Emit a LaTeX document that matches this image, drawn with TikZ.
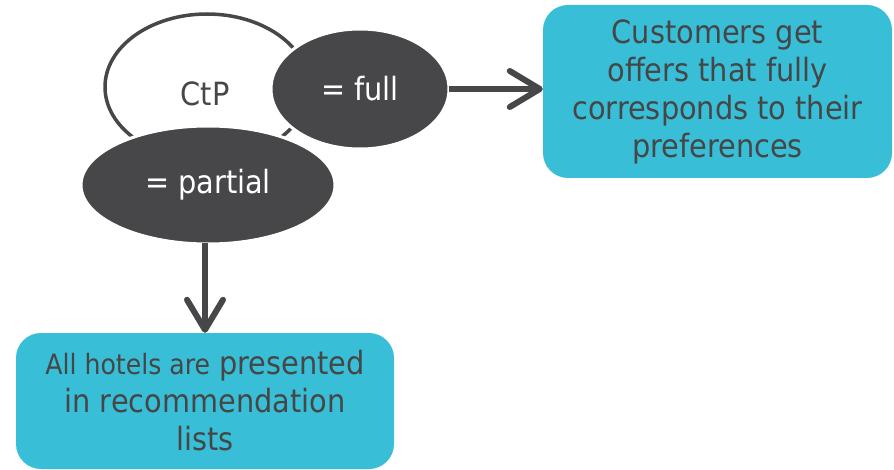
\documentclass[tikz,border=0pt]{standalone}
\usepackage{fontspec}
\setmainfont{DejaVu Sans Condensed}
\usetikzlibrary{shapes.geometric,arrows.meta}
\definecolor{inkgray}{HTML}{47474A}
\definecolor{textgray}{HTML}{464646}
\definecolor{tealbox}{HTML}{38BFD7}
\tikzset{
  outcome/.style={draw=none, fill=tealbox, rounded corners=25pt, align=center,
    text=textgray, font=\fontsize{32}{38}\selectfont, inner sep=0pt},
  ringnode/.style={ellipse, draw=inkgray, line width=3.5pt, fill=white, inner sep=0pt},
  valuenode/.style={ellipse, draw=white, line width=3pt, fill=inkgray, inner sep=0pt,
    text=white, font=\fontsize{32}{36}\selectfont},
  flow/.style={draw=inkgray, line width=6pt, shorten <=-2pt,
    -{Straight Barb[length=30pt, width=36pt, round]}}
}
\begin{document}
\begin{tikzpicture}[x=1pt, y=-1pt]
  \useasboundingbox (0,0) rectangle (894,470);

  % central property and its two values
  \node[ringnode, minimum width=204pt, minimum height=146pt] (ctp) at (207,87) {};
  \node[text=inkgray, font=\fontsize{32}{36}\selectfont] (ctplabel) at (205,94) {CtP};
  \node[valuenode, minimum width=178pt, minimum height=120pt] (full) at (360,89) {= full};
  \node[valuenode, minimum width=254pt, minimum height=118pt] (partial) at (208,185) {= partial};

  % outcomes
  \node[outcome, minimum width=349pt, minimum height=173pt] (offers) at (717.5,91.5)
    {Customers get\\offers that fully\\corresponds to their\\preferences};
  \node[outcome, minimum width=378pt, minimum height=136pt] (hotels) at (205,401)
    {{\fontsize{28}{38}\selectfont All hotels are} presented\\in recommendation\\lists};

  % connectors
  \draw[flow] (full.east) -- (offers.west |- full.east);
  \draw[flow] (partial.south -| hotels.north) -- (hotels.north);
\end{tikzpicture}
\end{document}
